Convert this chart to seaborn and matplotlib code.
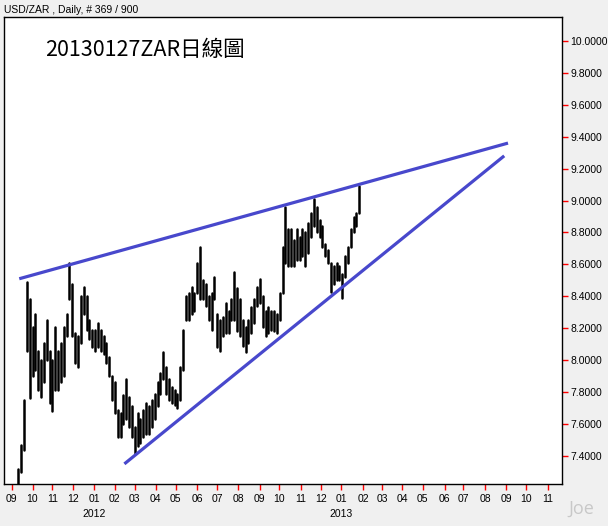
import matplotlib
matplotlib.use("Agg")
import matplotlib.pyplot as plt
import matplotlib.transforms as mtransforms
import numpy as np
import pandas as pd
import seaborn as sns

# USD/ZAR, read as 3-day bars (high / low), first bar 2011-09-12
bar_start = "2011-09-12"
bar_step = 3
highs = [7.32, 7.47, 7.75, 8.49, 8.38, 8.21, 8.29, 8.06, 8.00, 8.11,
         8.25, 8.06, 8.00, 8.21, 8.06, 8.11, 8.21, 8.29, 8.61, 8.48,
         8.17, 8.15, 8.40, 8.46, 8.40, 8.25, 8.19, 8.19, 8.23, 8.19,
         8.15, 8.11, 8.02, 7.90, 7.86, 7.69, 7.67, 7.78, 7.88, 7.77,
         7.71, 7.58, 7.67, 7.63, 7.69, 7.73, 7.71, 7.75, 7.79, 7.86,
         7.92, 8.05, 7.96, 7.88, 7.83, 7.81, 7.79, 7.96, 8.19, 8.40,
         8.42, 8.46, 8.42, 8.61, 8.71, 8.50, 8.48, 8.40, 8.42, 8.52,
         8.29, 8.25, 8.27, 8.36, 8.31, 8.38, 8.55, 8.45, 8.38, 8.25,
         8.21, 8.25, 8.33, 8.38, 8.46, 8.51, 8.40, 8.31, 8.33, 8.31,
         8.31, 8.29, 8.42, 8.71, 8.96, 8.82, 8.82, 8.75, 8.82, 8.77,
         8.82, 8.80, 8.86, 8.92, 9.01, 8.96, 8.88, 8.84, 8.73, 8.69,
         8.61, 8.59, 8.61, 8.59, 8.54, 8.65, 8.71, 8.82, 8.90, 8.92,
         9.09]
lows = [7.22, 7.30, 7.44, 8.06, 7.76, 7.90, 7.94, 7.81, 7.77, 7.86,
        8.00, 7.73, 7.68, 7.81, 7.81, 7.86, 7.90, 8.15, 8.38, 8.15,
        7.98, 7.96, 8.11, 8.29, 8.19, 8.13, 8.08, 8.06, 8.08, 8.06,
        8.04, 7.98, 7.90, 7.75, 7.67, 7.52, 7.52, 7.60, 7.63, 7.58,
        7.52, 7.42, 7.46, 7.48, 7.52, 7.54, 7.54, 7.58, 7.63, 7.71,
        7.79, 7.88, 7.79, 7.75, 7.73, 7.72, 7.70, 7.75, 7.94, 8.25,
        8.25, 8.29, 8.31, 8.42, 8.38, 8.38, 8.34, 8.25, 8.19, 8.38,
        8.08, 8.06, 8.15, 8.17, 8.17, 8.25, 8.25, 8.18, 8.15, 8.09,
        8.05, 8.11, 8.17, 8.23, 8.34, 8.36, 8.21, 8.15, 8.17, 8.19,
        8.18, 8.17, 8.25, 8.42, 8.61, 8.59, 8.59, 8.59, 8.63, 8.63,
        8.65, 8.59, 8.67, 8.77, 8.84, 8.80, 8.77, 8.71, 8.65, 8.61,
        8.43, 8.48, 8.50, 8.50, 8.39, 8.52, 8.61, 8.71, 8.80, 8.84,
        8.92]
last_close = 8.9359

upper_dates = ["2011-09-13", "2013-09-04"]
upper_prices = [8.51, 9.36]
lower_dates = ["2012-02-15", "2013-08-29"]
lower_prices = [7.35, 9.28]

y_ticks = [7.4, 7.6, 7.8, 8.0, 8.2, 8.4, 8.6, 8.8, 9.0, 9.2, 9.4, 9.6, 9.8, 10.0]

header = "USD/ZAR , Daily, # 369 / 900"
title = "20130127ZAR日線圖"

sns.set_style("white")
plt.rcParams["font.family"] = ["Liberation Sans", "Noto Sans CJK TC", "DejaVu Sans"]

# trading-day axis
all_days = pd.bdate_range("2011-09-01", "2013-11-29")
bar_dates = pd.bdate_range(bar_start, periods=len(highs), freq=f"{bar_step}B")
bar_x = all_days.get_indexer(bar_dates)

bars = pd.DataFrame({
    "x": np.repeat(bar_x, 2),
    "price": np.column_stack([lows, highs]).ravel(),
    "bar": np.repeat(np.arange(len(highs)), 2),
})
trend = pd.DataFrame({
    "x": np.concatenate([all_days.get_indexer(pd.to_datetime(upper_dates)),
                         all_days.get_indexer(pd.to_datetime(lower_dates))]),
    "price": upper_prices + lower_prices,
    "line": ["upper", "upper", "lower", "lower"],
})

fig = plt.figure(figsize=(6.08, 5.26), dpi=100)
fig.patch.set_facecolor("#f0f0f0")
ax = fig.add_axes([4 / 608, 42 / 526, 558 / 608, 467 / 526])
ax.set_facecolor("white")

sns.lineplot(data=bars, x="x", y="price", units="bar", estimator=None,
             color="black", lw=1.8, ax=ax, sort=False)
sns.lineplot(data=trend, x="x", y="price", units="line", estimator=None,
             color="#4848cc", lw=2.3, ax=ax, sort=False, solid_capstyle="butt")

ax.set_xlim(-8.1, 581)
ax.set_ylim(7.224, 10.15)
ax.set_xlabel("")
ax.set_ylabel("")

# month ticks at the first trading day of each month
s = pd.Series(all_days)
month_first = s.groupby([s.dt.year, s.dt.month]).first()
tick_x = all_days.get_indexer(pd.DatetimeIndex(month_first.values))
ax.set_xticks(tick_x)
ax.set_xticklabels([f"{d.month:02d}" for d in month_first])

blend = mtransforms.blended_transform_factory(ax.transData, ax.transAxes)
for d, x in zip(month_first, tick_x):
    if d.month == 1:
        ax.text(x, -0.064, str(d.year), transform=blend, ha="center",
                va="center", fontsize=7.5, color="black")

ax.yaxis.tick_right()
ax.set_yticks(y_ticks)
ax.set_yticklabels([f"{v:.4f}" for v in y_ticks])
ax.tick_params(axis="both", which="major", direction="out", length=4,
               width=1, color="red", labelcolor="black", labelsize=7.5)
ax.tick_params(axis="x", pad=3, bottom=True)
ax.tick_params(axis="y", pad=2, right=True, left=False)
for sp in ax.spines.values():
    sp.set_color("black")
    sp.set_linewidth(1)
    sp.set_visible(True)

ax.text(1.0075, last_close, f"{last_close:.4f}", transform=blend, ha="left",
        va="center", fontsize=7.5, color="blue",
        bbox=dict(boxstyle="square,pad=0.15", facecolor="white",
                  edgecolor="red", linewidth=1))

fig.text(4 / 608, 1 - 10 / 526, header, ha="left", va="center", fontsize=7.5,
         color="black")
fig.text(45 / 608, 1 - 50 / 526, title, ha="left", va="center", fontsize=15.5,
         color="black", family=["Noto Sans CJK TC", "DejaVu Sans"])
fig.text(581 / 608, 1 - 509 / 526, "Joe", ha="center", va="center",
         fontsize=13, color="#c8c8c8", family=["Open Sans", "DejaVu Sans"])

fig.savefig("out.png", dpi=100, facecolor=fig.get_facecolor())
